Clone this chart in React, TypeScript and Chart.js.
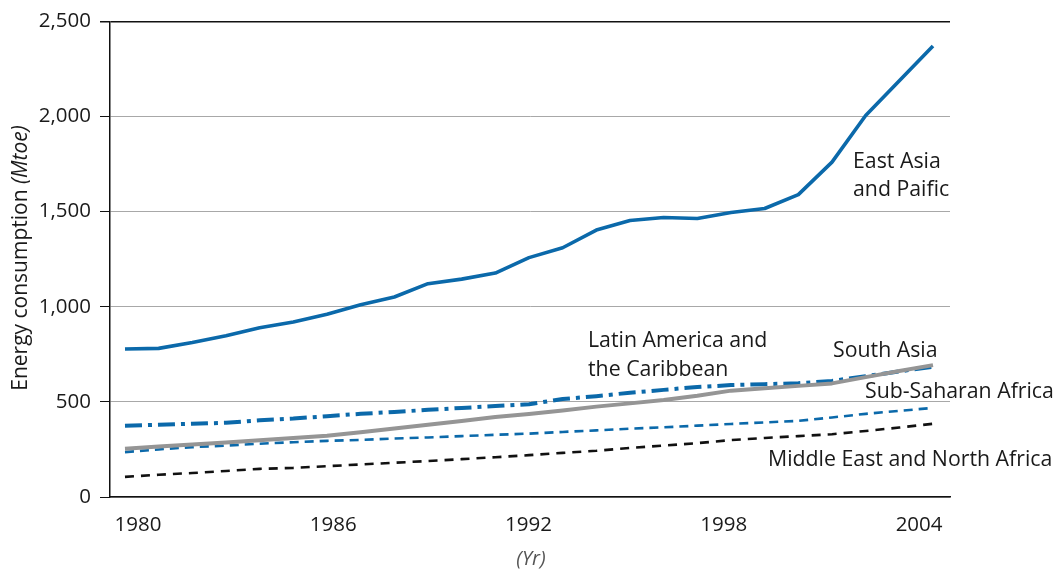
import React, { useEffect, useRef } from "react";
import { Chart, registerables } from "chart.js";

Chart.register(...registerables);

const years = [1980, 1981, 1982, 1983, 1984, 1985, 1986, 1987, 1988, 1989, 1990, 1991, 1992, 1993, 1994, 1995, 1996, 1997, 1998, 1999, 2000, 2001, 2002, 2003, 2004];
const eastAsia = [778, 781, 812, 848, 890, 920, 960, 1010, 1051, 1121, 1145, 1177, 1258, 1310, 1403, 1453, 1469, 1464, 1495, 1516, 1589, 1760, 2005, 2188, 2370];
const southAsia = [254, 265, 276, 287, 298, 310, 322, 340, 360, 380, 400, 420, 436, 455, 475, 492, 510, 532, 559, 572, 584, 597, 630, 662, 693];
const latinAmerica = [375, 380, 385, 390, 403, 412, 425, 437, 447, 458, 468, 478, 487, 515, 530, 548, 563, 578, 588, 593, 598, 610, 635, 660, 685];
const subSaharan = [236, 250, 262, 270, 280, 288, 295, 300, 307, 313, 320, 327, 333, 342, 350, 359, 366, 375, 384, 392, 400, 418, 437, 453, 468];
const middleEast = [106, 117, 126, 137, 148, 153, 162, 171, 180, 189, 199, 209, 220, 232, 243, 258, 270, 283, 299, 310, 320, 330, 347, 365, 385];
const tickYears = [1980, 1986, 1992, 1998, 2004];
const yTicks = [0, 500, 1000, 1500, 2000, 2500];

const seriesNames = ["East Asia and Paific", "South Asia", "Latin America and the Caribbean", "Sub-Saharan Africa", "Middle East and North Africa"];
const labelLines = [["East Asia", "and Paific"], ["South Asia"], ["Latin America and", "the Caribbean"], ["Sub-Saharan Africa"], ["Middle East and North Africa"]];
const yTitle = ["Energy consumption ", "(Mtoe)"];
const xTitle = "(Yr)";

const BLUE = "#0b69aa";
const FONT = '"Open Sans", sans-serif';

const textPlugin = {
  id: "textPlugin",
  afterDraw(chart: any) {
    const ctx = chart.ctx as CanvasRenderingContext2D;
    ctx.save();
    ctx.fillStyle = "#1a1a1a";
    ctx.textAlign = "left";
    ctx.textBaseline = "alphabetic";
    ctx.font = `21.3px ${FONT}`;
    const pos: [number, number, number][] = [
      [853, 168, 27.5],
      [833, 357, 0],
      [588, 347, 29],
      [865, 397.5, 0],
      [768, 466, 0],
    ];
    labelLines.forEach((lines, i) => {
      const [x, y, lh] = pos[i];
      lines.forEach((t, j) => ctx.fillText(t, x, y + j * lh));
    });

    // y title (rotated, mixed style)
    const normalFont = `21px ${FONT}`;
    const italicFont = `italic 21px ${FONT}`;
    ctx.font = normalFont;
    const w1 = ctx.measureText(yTitle[0]).width;
    ctx.font = italicFont;
    const w2 = ctx.measureText(yTitle[1]).width;
    const total = w1 + w2;
    ctx.translate(27, 258);
    ctx.rotate(-Math.PI / 2);
    ctx.font = normalFont;
    ctx.fillText(yTitle[0], -total / 2, 0);
    ctx.font = italicFont;
    ctx.fillText(yTitle[1], -total / 2 + w1, 0);
    ctx.setTransform(1, 0, 0, 1, 0, 0);

    // x title
    ctx.font = `italic 20px ${FONT}`;
    ctx.fillStyle = "#555";
    ctx.textAlign = "center";
    ctx.fillText(xTitle, 531, 565);
    ctx.restore();
  },
};

export default function App() {
  const ref = useRef<HTMLCanvasElement>(null);
  useEffect(() => {
    if (!ref.current) return;
    const mk = (vals: number[]) => vals.map((v, i) => ({ x: years[i], y: v }));
    const chart = new Chart(ref.current, {
      type: "line",
      data: {
        datasets: [
          { label: seriesNames[0], data: mk(eastAsia), borderColor: BLUE, borderWidth: 3.6 },
          { label: seriesNames[1], data: mk(southAsia), borderColor: "#959595", borderWidth: 4 },
          { label: seriesNames[2], data: mk(latinAmerica), borderColor: BLUE, borderWidth: 4, borderDash: [17, 6, 4, 6] },
          { label: seriesNames[3], data: mk(subSaharan), borderColor: BLUE, borderWidth: 2.6, borderDash: [9, 6] },
          { label: seriesNames[4], data: mk(middleEast), borderColor: "#111", borderWidth: 2.6, borderDash: [9, 7] },
        ].map((d) => ({ ...d, xAxisID: "x", pointRadius: 0, fill: false, tension: 0, borderCapStyle: "butt" as const, borderJoinStyle: "round" as const })),
      },
      options: {
        responsive: false,
        animation: false,
        layout: { padding: { left: 0, right: 109, top: 17, bottom: 0 } },
        plugins: { legend: { display: false }, tooltip: { enabled: false }, title: { display: false } },
        scales: {
          x: {
            type: "linear",
            display: false,
            min: 1979.555,
            max: 2004.505,
          },
          xLabels: {
            type: "linear",
            position: "bottom",
            min: 1979.14,
            max: 2004.95,
            afterBuildTicks: (s: any) => {
              s.ticks = tickYears.map((v) => ({ value: v }));
            },
            afterFit: (s: any) => {
              s.height = 73;
            },
            ticks: {
              callback: (v: any) => String(v),
              color: "#1a1a1a",
              font: { family: FONT, size: 20.5 },
              padding: 16,
              maxRotation: 0,
              autoSkip: false,
            },
            grid: { display: false, drawTicks: false },
            border: { display: true, color: "#111", width: 1.5 },
          },
          y: {
            min: 0,
            max: 2500,
            afterBuildTicks: (s: any) => {
              s.ticks = yTicks.map((v) => ({ value: v }));
            },
            afterFit: (s: any) => {
              s.width = 110;
            },
            ticks: {
              callback: (v: any) => Number(v).toLocaleString("en-US"),
              color: "#1a1a1a",
              font: { family: FONT, size: 20.5 },
              padding: 9,
            },
            grid: {
              color: (c: any) => (c.tick && c.tick.value === 2500 ? "#111" : "#a8a8a8"),
              lineWidth: (c: any) => (c.tick && c.tick.value === 2500 ? 1.5 : 1),
              tickColor: "#111",
              tickLength: 10,
              drawTicks: true,
            },
            border: { display: true, color: "#111", width: 1.5 },
          },
        },
      },
      plugins: [textPlugin],
    });
    return () => chart.destroy();
  }, []);
  return (
    <div style={{ position: "absolute", left: 0, top: 0, width: 1059, height: 570, background: "#fff" }}>
      <canvas ref={ref} width={1059} height={570} />
    </div>
  );
}
